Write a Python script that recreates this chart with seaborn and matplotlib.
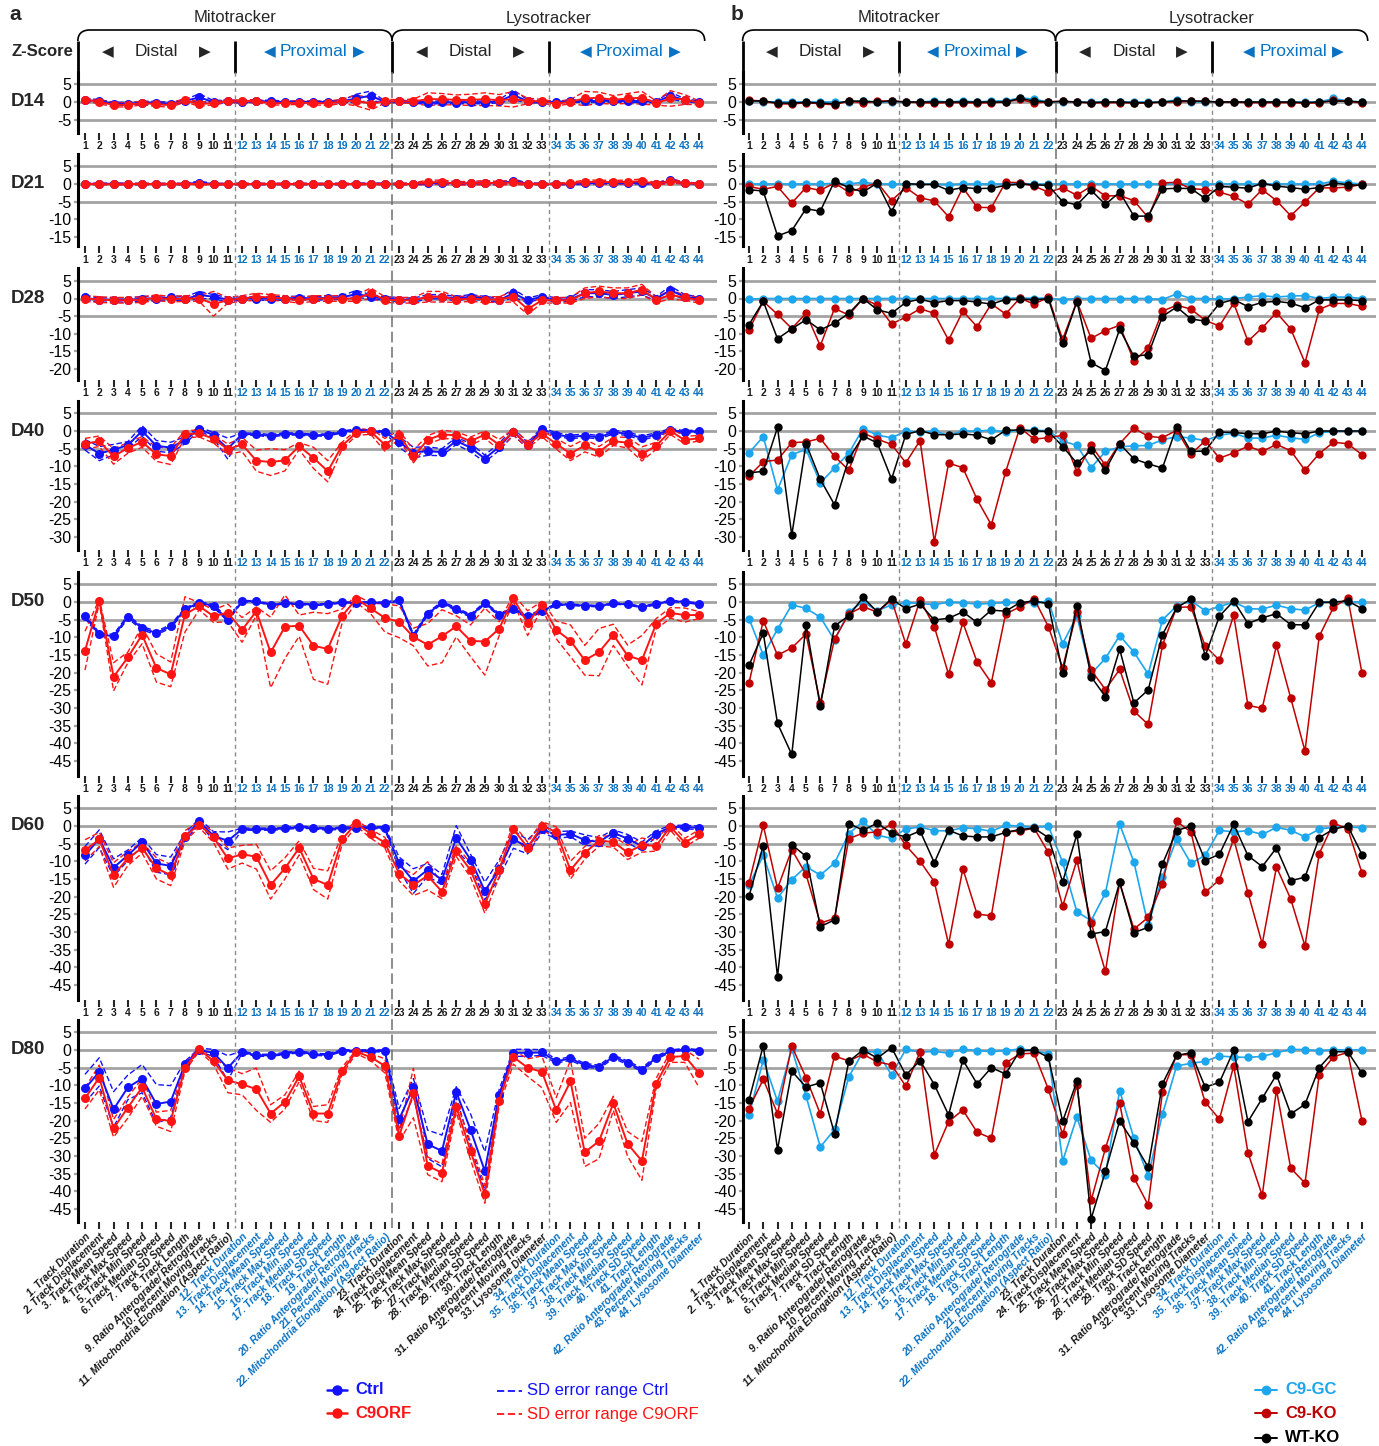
import numpy as np
import pandas as pd
import matplotlib
matplotlib.use('Agg')
import matplotlib.pyplot as plt
import seaborn as sns
from matplotlib.path import Path
from matplotlib.patches import PathPatch

# ---------------- DATA ----------------
metric_names = [
    "1. Track Duration", "2. Track Displacement", "3. Track Mean Speed", "4. Track Max Speed",
    "5. Track Min Speed", "6.Track Median Speed", "7. Track SD Speed", "8. Track Length",
    "9. Ratio Anterograde/ Retrograde", "10. Percent Moving Tracks",
    "11. Mitochondria Elongation (Aspect Ratio)",
    "12. Track Duration", "13. Track Displacement", "14. Track Mean Speed", "15. Track Max Speed",
    "16. Track Min Speed", "17. Track Median Speed", "18. Track SD Speed", "19. Track Length",
    "20. Ratio Anterograde/ Retrograde", "21. Percent Moving Tracks",
    "22. Mitochondria Elongation (Aspect Ratio)",
    "23. Track Duration", "24. Track Displacement", "25. Track Mean Speed", "26. Track Max Speed",
    "27. Track Min Speed", "28. Track Median Speed", "29. Track SD Speed", "30. Track Length",
    "31. Ratio Anterograde/ Retrograde", "32. Percent Moving Tracks", "33. Lysosome Diameter",
    "34. Track Duration", "35. Track Displacement", "36. Track Mean Speed", "37. Track Max Speed",
    "38. Track Min Speed", "39. Track Median Speed", "40. Track SD Speed", "41. Track Length",
    "42. Ratio Anterograde/ Retrograde", "43. Percent Moving Tracks", "44. Lysosome Diameter",
]
metric_index = list(range(1, 45))
day_labels = ["D14", "D21", "D28", "D40", "D50", "D60", "D80"]

# Panel a : Ctrl / C9ORF means and SD half-widths
a_ctrl_D14 = [0.5,0.3,-0.5,-0.5,-0.2,-0.2,-0.5,0.3,1.3,0.0,0.2, 0.0,0.2,0.2,0.0,0.0,0.0,0.0,0.2,1.0,1.8,0.0, 0.2,0.0,-0.3,0.0,-0.2,0.0,-0.2,0.2,2.0,0.2,0.0, 0.0,0.2,0.3,0.3,0.3,0.3,0.3,0.0,1.8,0.5,0.0]
a_c9_D14 = [0.7,0.0,-0.8,-0.8,-0.3,-0.6,-0.9,0.5,-0.6,-0.3,0.2, 0.2,0.3,-0.4,-0.3,-0.2,-0.3,-0.4,0.2,0.4,-0.5,0.2, 0.2,0.2,0.8,0.8,0.6,0.6,0.8,0.5,0.8,0.3,0.2, -0.5,0.1,1.0,1.2,0.6,1.0,1.2,-0.3,1.0,0.7,-0.2]
a_ctrl_D14_sd = [0.4,0.4,0.4,0.4,0.4,0.4,0.4,0.4,1.0,0.4,0.4, 0.3,0.3,0.3,0.3,0.3,0.3,0.3,0.3,1.2,1.3,0.3, 0.3,0.3,0.4,0.4,0.4,0.4,0.4,0.4,1.4,0.4,0.3, 0.3,0.3,0.4,0.4,0.4,0.4,0.4,0.3,1.0,0.4,0.3]
a_c9_D14_sd = [0.5,0.5,0.6,0.6,0.5,0.6,0.6,0.5,0.6,0.5,0.4, 0.4,0.4,0.5,0.5,0.5,0.5,0.6,0.6,1.5,1.8,0.5, 0.5,0.6,1.8,1.6,1.4,1.6,1.8,1.6,2.2,0.8,0.5, 0.6,0.6,2.0,1.6,1.2,1.4,1.8,0.6,2.2,1.4,0.5]

a_ctrl_D21 = [0.1,0.0,0.1,0.0,0.0,0.0,0.0,0.0,0.4,0.0,0.0, 0.0,0.0,0.0,0.0,0.0,0.0,0.0,0.0,0.0,0.1,0.0, 0.0,0.0,0.2,0.3,0.2,0.2,0.3,0.2,0.8,0.1,0.0, 0.0,0.0,0.2,0.3,0.3,0.3,0.3,0.0,1.0,0.2,0.0]
a_c9_D21 = [0.0,0.0,-0.1,0.0,0.0,0.0,0.0,0.0,0.0,-0.1,0.0, 0.0,0.0,0.0,0.0,0.0,0.0,0.0,0.0,0.0,0.0,0.0, 0.0,0.0,0.5,0.5,0.2,0.2,0.4,0.2,0.5,0.0,0.0, 0.0,0.2,0.6,0.6,0.5,0.6,0.8,0.0,0.8,0.3,0.0]
a_ctrl_D21_sd = [0.2,0.2,0.2,0.2,0.2,0.2,0.2,0.2,0.4,0.2,0.2, 0.2,0.2,0.2,0.2,0.2,0.2,0.2,0.2,0.2,0.2,0.2, 0.2,0.2,0.3,0.3,0.3,0.3,0.3,0.3,0.6,0.2,0.2, 0.2,0.2,0.3,0.3,0.3,0.3,0.3,0.2,0.6,0.2,0.2]
a_c9_D21_sd = [0.2,0.2,0.2,0.2,0.2,0.2,0.2,0.2,0.2,0.2,0.2, 0.2,0.2,0.2,0.2,0.2,0.2,0.2,0.2,0.2,0.2,0.2, 0.2,0.3,0.6,0.6,0.5,0.5,0.6,0.5,0.6,0.3,0.2, 0.2,0.3,0.5,0.5,0.5,0.5,0.6,0.3,0.6,0.3,0.2]

a_ctrl_D28 = [0.3,-0.5,-0.3,-0.5,0.0,0.0,0.3,-0.2,1.0,0.5,-0.3, 0.0,0.0,0.0,0.0,0.2,0.0,0.2,0.3,1.3,0.5,0.0, -0.3,-0.5,0.5,0.5,0.0,0.5,0.0,-0.5,1.5,-0.5,0.5, -0.5,-0.2,1.5,1.5,1.0,1.5,2.0,0.0,2.3,0.5,0.0]
a_c9_D28 = [0.0,-0.3,-0.5,-0.5,-0.3,0.2,-0.2,0.0,0.0,-1.5,-0.5, 0.0,0.5,0.3,0.0,-0.5,0.0,0.0,0.0,0.0,1.5,-0.3, -0.5,-0.5,0.5,0.5,-0.3,0.0,-0.3,-0.3,0.5,-3.0,-0.5, -0.5,-0.5,1.5,2.0,1.5,1.5,2.5,-0.3,1.0,0.3,-0.5]
a_ctrl_D28_sd = [0.6,0.6,0.6,0.6,0.6,0.6,0.6,0.6,1.0,0.6,0.6, 0.5,0.5,0.5,0.5,0.5,0.5,0.5,0.5,1.0,0.6,0.5, 0.6,0.6,0.6,0.6,0.6,0.6,0.6,0.6,1.2,0.6,0.6, 0.6,0.6,1.0,1.0,1.0,1.0,1.0,0.6,1.2,0.6,0.5]
a_c9_D28_sd = [0.8,0.8,0.8,0.8,0.8,0.8,0.8,0.8,0.8,3.5,0.8, 0.8,1.0,0.8,0.8,0.8,0.8,0.8,0.8,0.8,1.5,0.8, 0.8,0.8,1.5,1.5,0.8,0.8,0.8,0.8,1.5,1.5,0.8, 0.8,0.8,1.5,1.5,1.5,1.5,1.5,0.8,1.2,0.8,0.8]

a_ctrl_D40 = [-3.9,-6.4,-5.3,-4.0,0.0,-4.2,-4.7,-2.6,0.6,-1.2,-5.0, -0.9,-0.9,-1.4,-0.8,-0.9,-1.2,-1.1,-0.3,0.3,0.0,-0.3, -3.1,-6.1,-5.7,-6.0,-2.8,-4.7,-7.8,-4.5,-0.2,-4.1,0.5, -1.0,-1.7,-1.3,-1.8,-0.3,-0.8,-2.0,-1.0,0.3,-0.3,0.0]
a_c9_D40 = [-3.6,-2.9,-7.2,-4.8,-3.1,-6.6,-7.1,-0.9,-0.7,-2.2,-5.2, -3.8,-8.4,-8.8,-8.3,-4.3,-7.6,-11.4,-4.2,-0.5,-0.1,-3.9, -1.0,-7.2,-2.5,-1.0,-1.2,-2.9,-1.0,-3.9,-0.3,-3.9,-0.8, -3.6,-6.4,-4.1,-5.9,-2.9,-3.3,-6.5,-4.2,0.0,-2.6,-2.0]
a_ctrl_D40_sd = [1.5,2.0,1.5,1.0,1.5,1.5,1.5,1.0,0.5,0.8,3.0, 0.3,0.3,0.4,0.3,0.3,0.3,0.3,0.3,0.3,0.3,0.3, 1.5,1.5,1.2,1.0,1.0,1.2,1.0,1.0,1.0,0.8,0.5, 0.5,0.5,0.5,0.5,0.5,0.5,0.6,0.5,0.4,0.4,0.3]
a_c9_D40_sd = [1.5,1.5,2.2,1.5,1.5,2.0,2.4,1.0,1.0,1.2,1.5, 2.0,3.0,3.8,3.0,1.0,3.0,3.0,1.0,0.8,0.8,1.8, 1.2,1.8,1.2,1.2,1.0,1.2,1.0,1.5,0.8,1.0,0.8, 1.5,2.0,1.8,1.5,1.2,1.5,2.0,1.0,1.0,1.0,0.8]

a_ctrl_D50 = [-4.1,-9.2,-9.7,-4.2,-7.4,-8.8,-6.9,-2.1,-0.2,-1.1,-5.0, 0.2,0.2,-0.8,-0.4,-0.5,-0.8,-0.6,-0.1,-0.3,-0.1,-0.3, 0.5,-9.6,-3.3,-0.2,-2.0,-3.9,-0.3,-3.6,-2.1,-4.1,-2.6, -0.7,-0.8,-1.0,-1.2,-0.4,-0.7,-1.4,-0.6,0.3,0.0,-0.5]
a_c9_D50 = [-13.8,0.3,-21.2,-15.7,-9.3,-18.7,-20.5,-3.5,-1.2,-4.0,-3.1, -7.9,-2.6,-14.3,-7.0,-6.7,-12.4,-13.3,-4.0,0.9,-1.8,-4.5, -5.6,-9.9,-12.1,-9.7,-6.9,-11.0,-11.2,-7.6,1.0,-6.0,-0.8, -7.9,-11.0,-16.5,-14.2,-9.3,-15.2,-16.5,-6.2,-3.1,-3.7,-3.7]
a_ctrl_D50_sd = [0.5,0.5,0.5,0.5,0.5,0.5,0.5,0.4,0.3,0.4,0.5, 0.2,0.2,0.2,0.2,0.2,0.2,0.2,0.2,0.2,0.2,0.2, 0.3,0.5,0.4,0.3,0.4,0.4,0.3,0.4,0.4,0.4,0.4, 0.2,0.2,0.2,0.2,0.2,0.2,0.2,0.2,0.2,0.2,0.2]
a_c9_D50_sd = [5.5,0.5,4.0,1.5,2.5,4.0,3.5,5.0,1.0,1.8,2.5, 3.5,1.2,10.0,9.0,3.0,9.5,10.0,2.0,1.0,1.5,4.0, 4.5,2.5,6.0,7.5,3.0,4.5,9.5,2.0,1.0,3.5,1.0, 2.5,4.5,4.2,6.7,3.0,3.0,7.0,1.5,1.5,2.0,1.0]

a_ctrl_D60 = [-8.3,-3.6,-11.8,-8.3,-4.5,-10.6,-11.3,-3.1,1.3,-2.8,-4.2, -0.9,-0.9,-0.9,-0.7,-0.3,-0.5,-0.9,-0.6,-0.5,-0.3,-0.6, -10.6,-15.6,-12.4,-15.2,-3.4,-9.5,-18.4,-12.2,-3.8,-5.9,-0.8, -2.6,-2.2,-4.0,-4.5,-1.9,-3.6,-5.7,-2.2,-0.3,-0.3,-0.5]
a_c9_D60 = [-6.9,-3.8,-13.9,-9.2,-6.2,-12.0,-13.9,-2.8,0.4,-3.2,-9.2, -8.0,-8.7,-16.7,-12.0,-6.2,-15.0,-16.7,-3.8,0.8,-2.2,-4.7, -13.5,-16.7,-14.1,-18.6,-7.1,-12.5,-22.2,-12.5,-0.9,-6.1,0.0, -1.7,-12.5,-7.6,-4.2,-4.5,-7.5,-5.4,-5.6,-0.2,-4.7,-2.3]
a_ctrl_D60_sd = [2.5,2.5,2.5,1.5,1.2,2.5,2.5,1.0,0.8,1.2,2.5, 0.3,0.3,0.3,0.3,0.3,0.3,0.3,0.3,0.3,0.3,0.3, 1.8,3.5,1.8,1.5,3.5,1.5,2.5,2.5,2.5,2.0,1.0, 1.0,0.8,1.5,1.2,0.8,1.2,1.2,0.8,0.5,0.5,0.5]
a_c9_D60_sd = [3.0,2.0,3.5,2.0,1.5,3.0,3.0,1.5,0.8,1.5,3.0, 2.5,3.5,4.0,3.0,2.0,3.0,4.0,1.5,0.8,1.2,1.5, 2.0,3.0,4.0,2.0,1.5,2.0,2.5,2.0,1.5,1.5,1.2, 1.5,2.5,1.8,1.5,1.5,2.0,2.0,1.5,1.0,1.2,1.2]

a_ctrl_D80 = [-10.9,-6.2,-16.8,-10.6,-8.1,-15.3,-14.6,-4.0,0.0,-0.8,-5.1, -0.6,-1.5,-1.5,-1.0,-0.5,-1.2,-1.4,-0.2,-0.3,-0.2,-0.3, -19.6,-10.6,-26.7,-28.6,-11.9,-22.6,-34.3,-12.8,-0.8,-0.8,-0.7, -3.2,-2.4,-4.3,-4.8,-1.9,-3.6,-5.6,-2.2,-0.3,0.2,-0.2]
a_c9_D80 = [-13.7,-7.8,-22.2,-16.3,-10.6,-19.6,-20.1,-5.0,0.2,-3.1,-8.6, -9.7,-11.1,-18.0,-14.7,-7.5,-18.0,-18.0,-5.9,-0.5,-2.0,-4.5, -24.3,-12.2,-32.8,-34.8,-16.1,-28.6,-40.9,-14.4,-2.0,-5.0,-6.2, -17.0,-8.9,-29.0,-25.8,-15.1,-26.6,-31.4,-9.5,-2.0,-1.7,-6.6]
a_ctrl_D80_sd = [4.0,4.0,5.0,3.5,4.0,5.5,4.5,0.8,0.5,1.0,3.5, 0.3,0.3,0.3,0.3,0.3,0.3,0.3,0.3,0.3,0.3,0.3, 3.0,2.5,4.0,4.5,1.5,4.5,5.5,1.5,1.0,1.0,0.8, 0.5,0.5,0.5,0.5,0.5,0.5,0.5,0.5,0.3,0.3,0.3]
a_c9_D80_sd = [3.0,3.5,2.5,3.0,2.5,2.0,3.0,1.0,0.5,1.0,3.5, 3.0,6.0,2.5,2.0,1.5,2.0,2.5,1.0,0.5,1.0,2.0, 1.5,7.0,2.5,2.5,1.5,2.5,2.5,1.5,2.0,2.5,4.5, 3.5,6.0,4.0,5.0,2.0,3.5,5.5,1.5,1.5,1.8,4.0]

# Panel b : C9-GC / C9-KO / WT-KO
b_gc_D14 = [0.2,0.1,0.0,0.0,0.0,0.0,0.0,0.0,0.3,0.0,0.0, 0.0,0.0,0.3,0.0,0.3,0.0,0.3,0.3,1.2,0.8,0.0, 0.0,0.0,0.0,0.0,0.0,0.0,0.0,0.0,0.6,0.0,0.0, 0.0,0.0,0.0,0.0,0.0,0.0,0.0,0.0,1.0,0.3,0.0]
b_ko_D14 = [0.5,0.3,-0.5,-0.6,-0.2,-0.5,-0.8,0.3,-0.3,0.3,0.3, 0.0,-0.2,-0.3,-0.2,-0.2,-0.3,-0.2,0.0,0.8,-0.3,0.1, 0.2,0.0,-0.3,-0.2,-0.2,-0.3,-0.3,0.0,0.0,0.2,0.2, 0.0,0.0,-0.2,-0.2,-0.2,-0.2,-0.3,-0.3,0.5,0.2,-0.3]
b_wt_D14 = [0.3,0.3,-0.3,-0.3,-0.1,-0.3,-0.5,0.3,0.2,0.0,0.3, 0.0,0.0,0.0,0.0,0.0,0.0,0.0,0.0,1.0,0.3,0.0, 0.2,0.0,-0.2,0.0,0.0,-0.2,-0.2,0.0,0.3,0.3,0.2, 0.0,0.0,0.0,0.0,0.0,0.0,-0.2,0.0,0.3,0.2,0.0]

b_gc_D21 = [0.0,0.0,0.0,0.0,0.0,0.0,0.2,0.0,0.5,0.0,0.0, 0.0,0.0,0.0,-0.2,0.0,0.0,0.0,0.0,0.2,0.0,0.0, 0.0,0.0,0.0,0.0,0.0,0.0,0.0,0.0,0.0,0.0,0.0, 0.0,0.0,0.0,0.0,0.0,0.0,0.0,0.0,0.8,0.3,0.0]
b_ko_D21 = [-0.7,-1.5,-0.7,-5.4,-1.0,-1.8,0.3,-2.3,-1.0,0.4,-4.7, -1.0,-3.9,-4.8,-9.3,-1.0,-6.6,-6.7,0.5,0.4,-0.6,-2.3, -1.1,-3.2,-0.6,-3.4,-3.3,-4.7,-9.5,0.3,0.5,-1.3,-1.6, -2.3,-3.5,-5.7,-1.6,-4.7,-9.0,-5.1,-1.1,-1.1,-0.9,-0.1]
b_wt_D21 = [-1.6,-2.0,-14.7,-13.2,-7.0,-7.7,0.8,-1.0,-2.3,0.3,-7.8, 0.1,-0.1,-0.1,-1.8,-1.0,-1.3,-1.2,-0.4,0.0,-0.2,-0.4, -5.0,-5.9,-1.8,-5.8,-2.3,-9.1,-9.1,-1.4,-1.2,-1.3,-4.1, -0.7,-0.9,-1.2,0.2,-0.6,-1.0,-1.5,-1.0,0.3,-0.2,-0.4]

b_gc_D28 = [-0.2,0.0,0.0,0.0,0.0,0.0,0.0,0.0,0.0,0.0,0.0, 0.0,0.0,0.0,0.0,0.0,0.0,0.0,0.0,0.2,0.0,0.2, -0.4,0.0,0.0,0.0,0.0,0.0,0.0,-0.3,1.3,0.0,0.0, -0.2,0.0,0.4,0.8,0.4,0.7,0.8,0.0,0.4,0.4,0.0]
b_ko_D28 = [-8.9,-0.8,-4.5,-8.5,-4.2,-13.4,-2.8,-4.7,0.0,-1.9,-7.2, -5.3,-2.9,-4.2,-11.8,-3.6,-8.0,-1.5,-4.4,0.1,-1.6,0.4, -11.6,-0.8,-11.3,-9.1,-7.6,-17.7,-14.0,-3.6,-1.9,-3.0,-6.2, -7.8,-1.3,-12.1,-8.3,-4.0,-8.6,-18.2,-3.1,-1.4,-1.4,-2.2]
b_wt_D28 = [-7.4,-0.8,-11.4,-8.6,-6.0,-8.9,-7.0,-4.2,0.0,-3.2,-4.2, -1.1,-0.2,-1.2,-0.6,-0.6,-1.0,-1.6,-0.3,-0.2,-0.3,-0.1, -12.6,-0.9,-18.2,-20.4,-8.7,-16.4,-15.9,-5.1,-2.4,-5.8,-6.4, -1.4,-0.3,-2.3,-1.1,-0.8,-1.3,-2.6,-0.4,-0.4,-0.4,-0.6]

b_gc_D40 = [-6.2,-1.6,-16.7,-6.7,-5.2,-14.7,-10.5,-6.3,0.7,-1.2,-1.9, -0.1,-0.3,-0.1,-1.2,0.0,-0.1,0.3,-0.3,0.3,0.2,0.1, -2.8,-4.1,-10.4,-5.8,-4.5,-4.2,-4.1,-2.5,-1.6,-2.0,-2.7, -1.2,-0.6,-2.0,-2.0,-1.2,-1.9,-2.4,-0.5,-0.1,0.0,0.0]
b_ko_D40 = [-12.8,-8.7,-8.2,-3.3,-3.1,-2.1,-7.2,-11.1,-0.6,-2.3,-3.8, -9.0,-2.7,-31.4,-9.1,-10.4,-19.4,-26.6,-11.6,0.9,-2.3,-1.9, -1.2,-11.6,-4.1,-9.7,-3.6,0.8,-1.5,-1.9,0.2,-6.5,-2.8, -7.7,-6.2,-4.3,-5.8,-3.8,-5.6,-11.1,-6.4,-3.2,-3.6,-6.7]
b_wt_D40 = [-11.9,-11.4,1.0,-29.5,-3.6,-13.7,-20.9,-7.9,-1.4,-3.4,-13.6, -1.0,0.1,-1.0,-1.1,-0.8,-1.2,-2.5,0.2,0.3,0.0,-0.1, -4.4,-9.1,-5.5,-11.0,-3.6,-7.9,-9.3,-10.5,1.2,-5.8,-5.7, -0.3,-0.4,-0.8,-0.8,0.0,-0.5,-0.8,0.0,0.0,0.0,0.0]

b_gc_D50 = [-4.7,-15.0,-7.7,-0.8,-1.8,-4.3,-10.8,-2.8,0.1,-2.5,-0.8, -0.2,-0.4,-0.8,0.0,-0.2,-0.6,-0.4,-0.1,-0.2,-0.2,0.2, -11.8,-4.0,-20.3,-16.0,-9.5,-14.2,-20.4,-5.1,-1.1,0.4,-2.5, -1.3,0.0,-1.9,-2.0,-0.9,-1.9,-2.3,-0.2,0.0,0.0,0.0]
b_ko_D50 = [-22.9,-5.3,-15.1,-13.0,-9.1,-28.6,-10.5,-3.4,-1.3,-2.9,0.6, -11.9,0.6,-7.0,-20.5,-5.8,-17.0,-22.9,-3.4,-1.4,0.9,-7.0, -18.6,-2.8,-19.3,-24.8,-19.1,-30.9,-34.7,-12.3,-1.5,-1.4,-12.5, -16.5,-3.7,-29.3,-30.1,-12.3,-27.2,-42.2,-9.7,-1.5,1.1,-20.1]
b_wt_D50 = [-17.9,-8.8,-34.4,-43.2,-6.4,-29.6,-6.8,-3.9,1.3,-2.8,0.9, -1.9,-0.6,-5.1,-4.6,-2.8,-5.8,-2.3,-2.6,-0.2,0.3,-0.5, -20.0,-1.0,-21.2,-26.8,-13.4,-28.6,-24.9,-9.3,-1.6,0.8,-15.3, -4.0,0.3,-6.1,-4.5,-3.3,-6.4,-6.5,-0.1,0.0,0.3,-1.9]

b_gc_D60 = [-16.8,-8.3,-20.4,-15.2,-11.5,-13.9,-10.5,-2.2,1.3,-2.6,-3.5, -0.8,-0.3,-1.3,-1.4,-0.5,-0.8,-1.5,0.2,0.0,-0.4,0.0, -10.3,-24.3,-26.8,-19.0,0.5,-10.2,-28.1,-14.4,-3.6,-10.6,-8.3, -1.2,-1.7,-1.3,-2.4,-0.4,-1.2,-3.1,-0.9,-0.3,-0.3,-0.5]
b_ko_D60 = [-16.1,0.2,-17.7,-6.7,-13.7,-27.5,-26.2,-3.6,-2.0,-1.7,0.5, -5.5,-10.0,-15.8,-33.5,-12.1,-25.0,-25.4,-1.7,-1.4,-0.6,-7.5, -22.7,-9.7,-27.4,-41.2,-16.0,-29.2,-25.9,-16.3,1.3,-1.7,-18.8, -15.2,-3.6,-18.9,-33.4,-11.6,-20.7,-34.0,-7.8,0.8,-0.8,-13.3]
b_wt_D60 = [-19.9,-5.6,-42.7,-5.3,-8.6,-28.5,-26.6,0.7,-1.2,0.8,-2.0, -3.1,-1.4,-10.4,-1.2,-2.8,-3.1,-3.1,-1.8,-1.0,-0.6,-3.3, -15.8,-2.4,-30.6,-29.9,-16.0,-30.2,-28.7,-10.8,-1.3,0.0,-9.8, -8.0,0.5,-8.4,-11.5,-6.2,-15.5,-14.5,-3.3,-0.9,0.0,-8.1]

b_gc_D80 = [-18.5,-2.8,-14.5,0.4,-13.0,-27.5,-22.5,-7.6,-0.5,-0.5,-7.1, 0.2,-0.6,-0.4,-0.9,0.2,-0.2,-0.4,-0.2,0.3,-0.2,-1.1, -31.5,-19.0,-31.3,-35.3,-11.5,-25.0,-35.7,-18.2,-4.5,-3.8,-3.2, -1.7,-2.0,-2.1,-1.8,-0.8,0.2,0.1,-0.3,0.1,0.0,0.1]
b_ko_D80 = [-16.6,-8.3,-18.0,1.1,-7.8,-18.1,-1.7,-3.1,-1.2,-3.4,-4.2, -10.3,-0.5,-29.7,-20.3,-17.0,-23.3,-25.0,-3.7,-1.1,-0.9,-11.1, -23.9,-9.9,-42.6,-27.9,-15.0,-36.2,-43.9,-12.0,-1.4,-1.3,-14.8, -19.6,-4.5,-29.1,-41.2,-11.3,-33.5,-37.7,-7.0,-1.9,-0.7,-20.1]
b_wt_D80 = [-14.2,1.2,-28.2,-6.0,-10.5,-9.3,-23.7,-3.2,0.0,-2.3,0.7, -7.1,-3.0,-9.8,-18.4,-2.8,-9.6,-5.0,-6.8,-0.2,0.0,-2.1, -20.2,-8.9,-47.8,-34.4,-20.1,-26.3,-33.2,-9.6,-1.5,-0.8,-10.5, -9.2,-0.1,-20.3,-13.7,-7.0,-18.1,-15.4,-5.0,-0.5,-0.5,-6.6]

panel_a_rows = [
    (a_ctrl_D14, a_ctrl_D14_sd, a_c9_D14, a_c9_D14_sd),
    (a_ctrl_D21, a_ctrl_D21_sd, a_c9_D21, a_c9_D21_sd),
    (a_ctrl_D28, a_ctrl_D28_sd, a_c9_D28, a_c9_D28_sd),
    (a_ctrl_D40, a_ctrl_D40_sd, a_c9_D40, a_c9_D40_sd),
    (a_ctrl_D50, a_ctrl_D50_sd, a_c9_D50, a_c9_D50_sd),
    (a_ctrl_D60, a_ctrl_D60_sd, a_c9_D60, a_c9_D60_sd),
    (a_ctrl_D80, a_ctrl_D80_sd, a_c9_D80, a_c9_D80_sd),
]
panel_b_rows = [
    (b_gc_D14, b_ko_D14, b_wt_D14), (b_gc_D21, b_ko_D21, b_wt_D21),
    (b_gc_D28, b_ko_D28, b_wt_D28), (b_gc_D40, b_ko_D40, b_wt_D40),
    (b_gc_D50, b_ko_D50, b_wt_D50), (b_gc_D60, b_ko_D60, b_wt_D60),
    (b_gc_D80, b_ko_D80, b_wt_D80),
]

# ---------------- STYLE / LAYOUT ----------------
C_CTRL = '#1212FF'
C_C9 = '#FF1414'
C_GC = '#1CA6EE'
C_KO = '#C00000'
C_WT = '#000000'
C_PROX = '#0A72C2'
C_GRID = '#A3A3A3'

sns.set_theme(style='white')
plt.rcParams['font.family'] = ['Liberation Sans', 'DejaVu Sans']
plt.rcParams['axes.linewidth'] = 2

W, H = 1379, 1446
fig = plt.figure(figsize=(W / 100, H / 100), dpi=100)

SCALE_Y = 3.53
YTOP = 8.5
row_zero_px = [102, 184, 298.5, 431, 602, 826, 1050]
row_ybottom = [-8.7, -17.6, -23, -33.6, -49.2, -49.2, -48.7]
row_ytick_min = [-5, -15, -20, -30, -45, -45, -45]
tick_colors = ['k'] * 11 + [C_PROX] * 11 + ['k'] * 11 + [C_PROX] * 11

PANEL_A = dict(x1=85.0, ppu=14.279, xlim=(0.5, 45.25))
PANEL_B = dict(x1=749.0, ppu=14.256, xlim=(0.55, 45.0))


def xpx(panel, v):
    return panel['x1'] + (v - 1) * panel['ppu']


def make_ax(panel, i):
    left = xpx(panel, panel['xlim'][0])
    right = xpx(panel, panel['xlim'][1])
    y0 = row_zero_px[i]
    top = y0 - YTOP * SCALE_Y
    bottom = y0 - row_ybottom[i] * SCALE_Y
    ax = fig.add_axes([left / W, 1 - bottom / H, (right - left) / W, (bottom - top) / H])
    return ax


def style_ax(ax, panel, i):
    last = (i == len(day_labels) - 1)
    ax.set_xlim(*panel['xlim'])
    ax.set_ylim(row_ybottom[i], YTOP)
    ax.patch.set_alpha(0)
    for s in ['top', 'right', 'bottom']:
        ax.spines[s].set_visible(False)
    ax.spines['left'].set_linewidth(2.2)
    ax.spines['left'].set_color('black')
    yt = list(range(5, row_ytick_min[i] - 1, -5))
    ax.set_yticks(yt)
    ax.set_yticklabels([str(v) for v in yt])
    ax.tick_params(axis='y', left=True, length=3, width=1.6, color=C_GRID, pad=1.5,
                   labelsize=11.5, labelcolor='black')
    ax.set_xticks(metric_index)
    if last:
        ax.set_xticklabels(metric_names, rotation=45, ha='right', rotation_mode='anchor',
                           fontsize=7.5, fontweight='bold', fontstyle='italic')
        ax.tick_params(axis='x', bottom=True, length=5, width=1.5, direction='out', pad=2)
    else:
        ax.set_xticklabels([str(v) for v in metric_index], fontsize=7.5, fontweight='bold')
        ax.tick_params(axis='x', bottom=True, length=5, width=1.5, direction='out', pad=1.2)
    for t, c in zip(ax.xaxis.get_major_ticks(), tick_colors):
        t.tick1line.set_color(c)
        t.label1.set_color(c)
    for v in (5, 0, -5):
        ax.axhline(v, color=C_GRID, lw=2, zorder=0.5)
    ax.set_xlabel('')
    ax.set_ylabel('')


def series(ax, y, color, lw, ms, ls='-', marker='o', z=3):
    df = pd.DataFrame({'metric': metric_index, 'z': y})
    kw = dict(marker=marker, markersize=ms, markeredgewidth=0, markerfacecolor=color) if marker else {}
    sns.lineplot(data=df, x='metric', y='z', ax=ax, color=color, lw=lw, linestyle=ls,
                 zorder=z, legend=False, errorbar=None, sort=False, clip_on=False, **kw)


# ----- panel a -----
for i, (ctrl, ctrl_sd, c9, c9_sd) in enumerate(panel_a_rows):
    ax = make_ax(PANEL_A, i)
    ctrl_a, ctrl_s = np.array(ctrl), np.array(ctrl_sd)
    c9_a, c9_s = np.array(c9), np.array(c9_sd)
    series(ax, ctrl_a + ctrl_s, C_CTRL, 1.0, 0, ls=(0, (4, 2)), marker=None, z=2)
    series(ax, ctrl_a - ctrl_s, C_CTRL, 1.0, 0, ls=(0, (4, 2)), marker=None, z=2)
    series(ax, c9_a + c9_s, C_C9, 1.0, 0, ls=(0, (4, 2)), marker=None, z=2.1)
    series(ax, c9_a - c9_s, C_C9, 1.0, 0, ls=(0, (4, 2)), marker=None, z=2.1)
    series(ax, ctrl, C_CTRL, 1.4, 6.5, z=3)
    series(ax, c9, C_C9, 1.4, 6.5, z=4)
    style_ax(ax, PANEL_A, i)

# ----- panel b -----
for i, (gc, ko, wt) in enumerate(panel_b_rows):
    ax = make_ax(PANEL_B, i)
    series(ax, gc, C_GC, 1.2, 6, z=3)
    series(ax, ko, C_KO, 1.1, 6, z=4)
    series(ax, wt, C_WT, 1.1, 6, z=5)
    style_ax(ax, PANEL_B, i)

# ----- overlay: header, separators, labels, legends -----
ov = fig.add_axes([0, 0, 1, 1], zorder=10)
ov.set_xlim(0, W)
ov.set_ylim(H, 0)
ov.axis('off')
ov.patch.set_alpha(0)


def bracket(x0, x1, ytop=30, ybot=41, r=12):
    verts = [(x0, ybot), (x0, ytop + 4), (x0 + 4, ytop), (x0 + r, ytop),
             (x1 - r, ytop), (x1 - 4, ytop), (x1, ytop + 4), (x1, ybot)]
    codes = [Path.MOVETO, Path.CURVE4, Path.CURVE4, Path.CURVE4,
             Path.LINETO, Path.CURVE4, Path.CURVE4, Path.CURVE4]
    ov.add_patch(PathPatch(Path(verts, codes), fill=False, lw=1.2, color='black'))


header_top = 41
axes_top0 = row_zero_px[0] - YTOP * SCALE_Y
bottom_all = row_zero_px[-1] - row_ybottom[-1] * SCALE_Y + 6

for panel, letter, lx in ((PANEL_A, 'a', 15), (PANEL_B, 'b', 737)):
    xl = xpx(panel, panel['xlim'][0])
    xs = [xpx(panel, 11.5), xpx(panel, 22.5), xpx(panel, 33.5)]
    xr = xpx(panel, 44.4)
    ov.text(lx, 15, letter, fontsize=15, fontweight='bold', ha='center', va='center')
    bracket(xl, xs[1])
    bracket(xs[1], xr)
    ov.text((xl + xs[1]) / 2, 18, 'Mitotracker', fontsize=12, ha='center', va='center')
    ov.text((xs[1] + xr) / 2, 18, 'Lysotracker', fontsize=12, ha='center', va='center')
    for x in [xl] + xs:
        ov.plot([x, x], [header_top, axes_top0 + 1], color='black', lw=2, solid_capstyle='butt')
    # section captions
    bounds = [xl, xs[0], xs[1], xs[2], xr + 6]
    for k in range(4):
        cx = (bounds[k] + bounds[k + 1]) / 2
        if k % 2 == 0:
            ov.text(cx, 52, 'Distal', fontsize=12.5, ha='center', va='center')
            ov.text(cx - 49, 52, '\u25C0', fontsize=11, ha='center', va='center',
                    family=['DejaVu Sans'])
            ov.text(cx + 48, 52, '\u25B6', fontsize=11, ha='center', va='center',
                    family=['DejaVu Sans'])
        else:
            ov.text(cx - 44, 52, '\u25C0', fontsize=11, ha='center', va='center',
                    color=C_PROX, family=['DejaVu Sans'])
            ov.text(cx, 52, 'Proximal', fontsize=12.5, ha='center', va='center', color=C_PROX)
            ov.text(cx + 45, 52, '\u25B6', fontsize=11, ha='center', va='center',
                    color=C_PROX, family=['DejaVu Sans'])
    # vertical dashed separators
    ov.plot([xs[0], xs[0]], [axes_top0, bottom_all], color='#8C8C8C', lw=1.0, ls=(0, (3, 2.5)))
    ov.plot([xs[1], xs[1]], [axes_top0, bottom_all], color='#6E6E6E', lw=1.1, ls=(0, (7, 3)))
    ov.plot([xs[2], xs[2]], [axes_top0, bottom_all], color='#8C8C8C', lw=1.0, ls=(0, (3, 2.5)))

ov.text(42, 52, 'Z-Score', fontsize=12, fontweight='bold', ha='center', va='center')
for name, y0 in zip(day_labels, row_zero_px):
    ov.text(28, y0, name, fontsize=13.5, fontweight='bold', ha='center', va='center')

# legend panel a
for y, c, lab in ((1390, C_CTRL, 'Ctrl'), (1413, C_C9, 'C9ORF')):
    ov.plot([327, 347], [y, y], color=c, lw=1.8)
    ov.plot([337], [y], 'o', color=c, ms=7.5, mew=0)
    ov.text(355, y, lab, color=c, fontsize=12, fontweight='bold', ha='left', va='center')
for y, c, lab in ((1391, C_CTRL, 'SD error range Ctrl'), (1414, C_C9, 'SD error range C9ORF')):
    ov.plot([497, 522], [y, y], color=c, lw=1.3, ls=(0, (4, 2)))
    ov.text(527, y, lab, color=c, fontsize=12, ha='left', va='center')

# legend panel b
for y, c, lab in ((1390, C_GC, 'C9-GC'), (1413, C_KO, 'C9-KO'), (1438, C_WT, 'WT-KO')):
    ov.plot([1255, 1277], [y, y], color=c, lw=1.4)
    ov.plot([1266], [y], 'o', color=c, ms=7, mew=0)
    ov.text(1285, y, lab, color=c, fontsize=12, fontweight='bold', ha='left', va='center')

fig.savefig('out.png', dpi=100)
